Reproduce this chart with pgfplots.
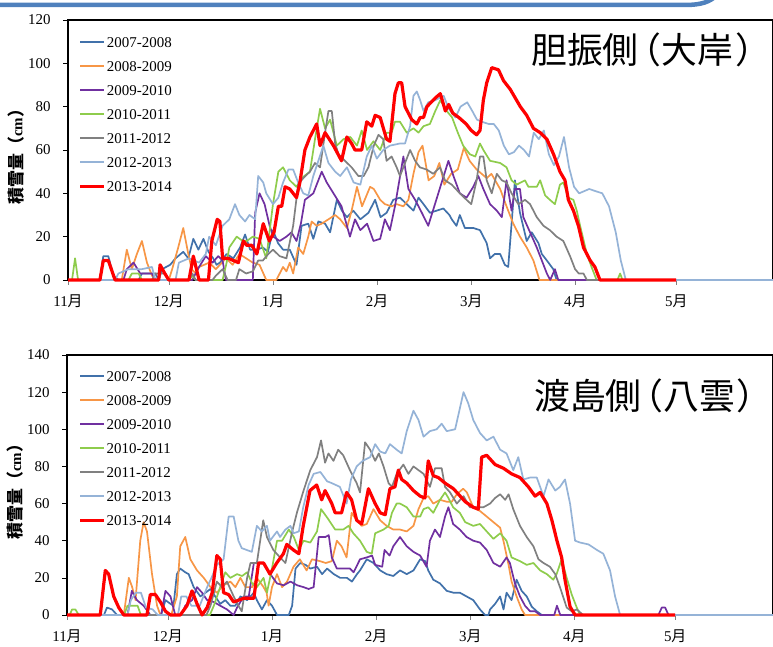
\documentclass[border=0pt]{standalone}
\usepackage{fontspec}
\setmainfont{Liberation Serif}
\newfontfamily\cjk{Noto Sans CJK JP}
\newfontfamily\cjkp[RawFeature=+palt]{Noto Sans CJK JP}
\usepackage{pgfplots}
\pgfplotsset{compat=1.18}
\definecolor{c07}{RGB}{65,113,170}
\definecolor{c08}{RGB}{247,150,70}
\definecolor{c09}{RGB}{112,48,160}
\definecolor{c10}{RGB}{142,204,76}
\definecolor{c11}{RGB}{128,128,128}
\definecolor{c12}{RGB}{149,179,215}
\definecolor{c13}{RGB}{255,0,0}
\definecolor{slideblue}{RGB}{79,129,189}
\pgfplotsset{
  snowax/.style={
    scale only axis, height=260bp,
    xmin=0, ymin=0,
    axis line style={line width=1.4bp, black},
    xtick={0,30,61,92,120,151,181},
    xticklabels={11{\cjk 月},12{\cjk 月},1{\cjk 月},2{\cjk 月},3{\cjk 月},4{\cjk 月},5{\cjk 月}},
    ytick pos=left, xtick pos=bottom,
    tick align=outside, major tick length=5bp,
    tick style={black, line width=0.6bp},
    xtick style={gray},
    tick label style={font=\fontsize{15}{17}\selectfont},
    yticklabel style={xshift=-9bp},
    xticklabel style={yshift=-6bp},
    /pgf/number format/assume math mode=true,
    clip=false, no markers,
    every axis plot/.append style={line width=1.7bp, line join=round},
    legend cell align=left,
    legend image code/.code={\draw[##1] (0bp,0bp) -- (24bp,0bp);},
    every axis y label/.style={at={(axis description cs:-0.074,0.49)}, rotate=90, anchor=center},
    ylabel={{\cjk\bfseries\fontsize{17}{17}\selectfont 積雪量（}{\bfseries\fontsize{15}{15}\selectfont cm}{\cjk\bfseries\fontsize{17}{17}\selectfont ）}},
  },
  snowleg/.style={legend style={at={(#1)}, anchor=north west, draw=none, fill=none, inner sep=0pt,
    font=\fontsize{15}{17}\selectfont, row sep=12bp,
    nodes={inner sep=1bp, text height=10bp, text depth=0bp}}},
}
\begin{document}
\begin{tikzpicture}[x=1bp,y=1bp]
\useasboundingbox (0,0) rectangle (773,647);
\clip (0,0) rectangle (773,647);
\draw[slideblue, line width=4.5bp] (-5,642) -- (685,642) .. controls (701,642) and (710,645) .. (717,652);
% ---------------- top panel
\begin{axis}[snowax, at={(68bp,367bp)}, anchor=south west, width=705bp,
  xmax=209.8, ymax=120, ytick={0,20,...,120}, snowleg={0.015,0.938}]
\addplot[c07] coordinates {(0,0) (9.5,0) (10.5,11) (12,11) (13.5,2) (15,0) (21,0) (22,3) (26,3) (27,0) (28,5) (30.4,7) (32,10) (34.3,13) (35.8,10) (37.3,19) (38.8,14) (40.3,19) (41.8,13) (43.2,10) (44.2,7) (45.2,8) (47.2,12) (49.2,10) (51.2,15) (52.7,21) (54.2,14) (56.2,14) (58,15) (59.5,13) (61,23) (62.5,17) (64,14) (66,14) (68,7) (69.5,25) (71.5,26) (73,19) (74.5,27) (76.5,26) (78,22) (80,37) (81.5,32) (83,29) (84.9,32) (87,28) (89.4,31) (91.4,37) (93,29) (94.8,31) (96.8,37) (98.8,38) (100.8,35) (102.8,32) (104.3,38) (105.8,35) (107.7,31) (109.7,32) (111.7,33) (113.5,30) (114.2,28) (115.6,25) (116.6,30) (118.1,24) (120.6,24) (122.6,23) (124.6,17) (125.6,10) (127,12) (128.6,12) (130,7) (131,6) (133,46) (134.5,31) (136.5,18) (138,22) (140,17) (141,12) (142.5,9) (144.4,5) (145.4,0) (181,0)};
\addlegendentry{2007-2008}
\addplot[c08] coordinates {(0,0) (16,0) (17.5,14) (19,5) (20.5,12) (22,18) (23.5,8) (25,2) (26,0) (30,0) (31,5) (32.8,15) (34.3,24) (35.8,12) (36.8,5) (38,3) (39,6) (42,8) (44,5) (47,10) (49,7) (51,12) (53,10) (55,8) (57,7) (59,0) (62,0) (64,6) (65,4) (66,8) (67,3) (68.5,15) (70,12) (71.5,20) (72.5,27) (74,25) (75.5,26) (77.5,28) (79.5,30) (81,28) (83,24) (84.4,32) (86,43) (87.5,34) (89.9,43) (91,42) (92.9,37) (94.3,35) (96.3,34) (97.8,35) (99.8,34) (101.3,37) (102.8,49) (104.3,59) (105.5,62) (107.3,46) (109,48) (110.5,54) (112,44) (114,49) (116,51) (117.8,61) (119.5,55) (121.6,51) (124.6,47) (126,49) (128.6,42) (130.5,34) (132.5,26) (134.5,20) (136.5,15) (138.5,9) (140.3,0) (181,0)};
\addlegendentry{2008-2009}
\addplot[c09] coordinates {(0,0) (16.5,0) (17.5,5) (19.5,8) (21.5,3) (23,3) (25,3) (26,0) (37,0) (39,6) (41,11) (43,8) (44.7,11) (46,9) (47,0) (55,0) (55.7,31) (57,40) (58.5,35) (60,25) (61.1,20) (63,18) (65,20) (66.5,22) (68,18) (69.3,26) (70.5,37) (73,40) (75.5,50) (77,45) (79,40) (81.4,34) (83.9,20) (85.4,28) (87,23) (89,26) (90.9,18) (92.9,19) (94.3,28) (95.8,23) (97.3,34) (99.8,57) (101.3,42) (103.3,37) (105.3,31) (107.2,25) (109.2,35) (111.2,45) (113.2,55) (114.7,48) (116.6,40) (118.6,38) (120.6,43) (122.1,48) (123.6,42) (125.6,35) (127.6,32) (129.1,29) (130.5,46) (132,32) (133,42) (134.5,42) (135.5,29) (137.5,22) (139.5,15) (141,9) (142.5,3) (143.5,0) (144.9,5) (145.9,0) (181,0)};
\addlegendentry{2009-2010}
\addplot[c10] coordinates {(0,0) (1.2,0) (2.1,10) (3,0) (18,0) (19,3) (21,3) (22,0) (36,0) (37,2) (38,0) (46,0) (47.2,8) (48,15) (50.2,20) (52,18) (53.2,18) (55,20) (57,19) (59,10) (61,35) (62.6,50) (64,52) (66,46) (68,43) (69.5,47) (72,50) (73.5,65) (75,79) (76.5,70) (78,74) (80,62) (82,65) (84,66) (86,62) (87.4,69) (89,60) (90.9,64) (92.9,60) (94.8,68) (96.3,68) (97.3,73) (98.8,73) (100.8,68) (102.8,70) (104.3,68) (105.8,71) (107.7,72) (109.3,78) (110.8,83) (112.7,78) (114.3,75) (116,68) (117.6,62) (119.6,58) (121.2,57) (122.6,63) (123.6,60) (125.6,55) (128.6,54) (130.5,52) (132,46) (133.5,44) (136,46) (137,43) (139.5,43) (140.5,46) (142,39) (143.4,37) (144.9,35) (146.4,44) (147.4,45) (148.9,38) (150.4,37) (151.4,32) (152.4,25) (154.4,12) (155.8,6) (157.3,0) (163.5,0) (164.3,3) (165,0) (181,0)};
\addlegendentry{2010-2011}
\addplot[c11] coordinates {(0,0) (25,0) (26,3) (29,3) (30,0) (36,0) (37,3) (38,0) (43,0) (44,2) (46,5) (47.5,0) (50,0) (51,5) (53,3) (55,4) (56.6,9) (58,9) (59.6,12) (61,14) (63,11) (65,10) (67,25) (68.5,44) (70,47) (72,50) (73.5,54) (75,52) (76.5,68) (77.5,78) (78.5,78) (79.5,63) (80.5,58) (82.4,55) (84.4,52) (86.4,48) (88,48) (89.4,52) (91,62) (92.4,67) (93.8,65) (94.8,55) (96.3,57) (97.8,52) (98.8,48) (100.3,54) (101.8,60) (103.3,55) (104.7,52) (106.7,51) (108.7,49) (110.7,52) (112.2,46) (114.2,44) (116.6,40) (118.6,37) (120,35) (121.6,46) (122.6,57) (123.6,57) (124.6,46) (126.1,40) (127.6,49) (129.1,46) (130.5,45) (132,40) (134,35) (136,37) (137.5,35) (139.5,29) (141.5,25) (143.4,23) (145.4,20) (147.4,18) (149.4,11) (150.9,5) (152,3) (153.4,3) (154.4,0) (209.8,0)};
\addlegendentry{2011-2012}
\addplot[c12] coordinates {(0,0) (14,0) (15,3) (18,5) (22,5) (25,6) (26,0) (32,0) (33,8) (36,10) (39,8) (41,12) (42,20) (44,16) (46,25) (48,28) (49.7,35) (51,30) (52.7,27) (54,30) (55.7,28) (56.6,48) (58.1,45) (59,40) (61,35) (62.6,38) (64,45) (65.6,51) (67,51) (68.5,45) (70,40) (71.5,39) (73,48) (74.5,55) (76,62) (77.5,54) (79.5,50) (81,48) (83,52) (85,45) (87,44) (88.9,57) (90.4,62) (91.9,56) (93.8,60) (95.8,62) (98.8,63) (100.3,63) (101.8,71) (102.8,85) (103.8,87) (104.8,83) (105.8,78) (107.2,82) (109.3,83) (111.8,85) (113.3,79) (115.3,75) (116.8,80) (118.8,82) (120.3,78) (121.7,74) (123.2,73) (125.2,72) (126.7,72) (128.2,69) (129.7,62) (131.2,58) (132.7,59) (134.2,62) (135.7,60) (137.2,57) (138.6,68) (140.1,65) (141.6,69) (143.1,58) (144.6,53) (146.1,57) (147.6,66) (149.1,52) (150.6,43) (152.1,40) (153.6,41) (155.1,42) (157,41) (159,40) (161,34) (163,22) (164.5,9) (166,0) (209.8,0)};
\addlegendentry{2012-2013}
\addplot[c13, line width=3.2bp] coordinates {(0,0) (9.5,0) (10.5,9) (12,9) (14,0) (27,0) (27.4,7) (28.8,3) (30,0) (36,0) (37.3,11) (39,0) (41.8,0) (42.8,18) (44.4,28) (45.2,27) (46,10) (47.7,10) (49.2,9) (50.7,8) (52.2,18) (53.2,16) (54.7,16) (56.2,12) (58.1,26) (59.9,18) (61.3,22) (62.6,34) (63.6,34) (64.6,43) (66,42) (68,38) (69,45) (70.5,60) (72,66) (74,72) (75,62) (76.5,68) (79,62) (81.4,55) (83,66) (84.4,63) (85.4,60) (87.4,60) (88.9,73) (90.4,71) (91.4,76) (92.9,75) (94.8,65) (95.8,64) (97.3,86) (98.3,91) (99.3,91) (100.3,80) (102.3,74) (103.8,72) (104.8,75) (105.8,75) (106.8,80) (109.3,84) (110.8,86) (112.3,78) (113.3,81) (114.5,77) (116.3,75) (118.5,72) (120,69) (121.6,67) (122.6,69) (123.6,83) (124.6,91) (126.1,98) (128.1,97) (129.6,92) (131.6,88) (134.6,80) (136.5,76) (138.5,70) (140.5,68) (142.5,65) (144.5,58) (146.4,50) (147.9,46) (148.9,37) (150.4,32) (151.9,25) (153.4,15) (155.4,9) (156.8,6) (158.3,0) (181,0)};
\addlegendentry{2013-2014}
\end{axis}
\node[anchor=west, inner sep=0pt, font=\cjkp\fontsize{36}{36}\selectfont] at (531,597) {胆振側\hspace{3bp}（\hspace{2bp}大岸\hspace{3bp}）};
% ---------------- bottom panel
\begin{axis}[snowax, at={(67bp,32bp)}, anchor=south west, width=706bp,
  xmax=210.1, ymax=140, ytick={0,20,...,140}, snowleg={0.016,0.942}]
\addplot[c07] coordinates {(0,0) (11,0) (11.9,4) (13.4,3) (14.9,0) (28,0) (29.3,8) (30.8,6) (31.7,5) (32.7,22) (33.7,25) (35.2,23) (36.2,22) (37.7,15) (39.7,10) (41.2,12) (42.7,14) (44.1,10) (45.6,6) (47.1,8) (48.6,5) (50.1,5) (51.6,10) (53.6,8) (55.6,12) (56.5,8) (58,3) (59.5,8) (61,5) (62.5,0) (66,0) (67,5) (68,25) (69.4,28) (71,27) (72.4,25) (74.4,26) (75.9,22) (77.4,25) (79.4,22) (81.3,20) (83.3,20) (84.8,18) (86.3,22) (87.2,24) (89.2,30) (91.2,28) (93.2,24) (95.1,22) (97.1,21) (99.1,24) (101.1,22) (103.1,24) (105.1,30) (106.6,29) (107.5,24) (109,19) (111,17) (113,13) (115,12) (116.9,12) (118.9,10) (120.9,8) (122.9,3) (124.4,0) (125.4,0) (125.9,3) (127.4,6) (128.9,10) (129.9,3) (130.8,12) (132.3,8) (133.8,19) (135.3,13) (136.8,10) (138.3,4.5) (139.8,2) (141.3,0) (210.1,0)};
\addlegendentry{2007-2008}
\addplot[c08] coordinates {(0,0) (16.9,0) (18.4,20) (19.4,15) (20.4,8) (21.8,40) (22.8,50) (23.8,45) (25.3,22) (26.8,5) (27.8,0) (31,0) (32.7,10) (33.7,37) (35.2,42) (36.7,30) (38.7,24) (40.7,20) (42.7,15) (44.6,12) (46.6,16) (48.6,18) (50.1,15) (51.6,20) (53.1,15) (55.1,15) (56.5,20) (58.5,15) (59.4,12) (60,5) (61,15) (62.5,22) (64,15) (65.5,18) (67.4,26) (69.3,30) (71.3,24) (72.9,30) (75.3,29) (77,28) (78.8,29) (80.3,40) (81.7,37) (83.2,31) (84.7,55) (86.2,51) (87.7,48) (89.2,49) (91.2,57) (93.2,51) (95.1,48) (97.1,46) (99.1,46) (101.1,45) (103.1,48) (104.6,57) (106.1,63) (107.5,64) (109,60) (111,62) (113,61) (114.5,61) (116,65) (117.9,68) (119,66) (120.9,58) (122.9,56) (124.9,53) (126.9,50) (128.9,47) (130,39) (131.4,27) (132.3,18) (133.8,10) (135.3,3) (136.3,0) (181,0)};
\addlegendentry{2008-2009}
\addplot[c09] coordinates {(0,0) (18,0) (19.3,13) (20.8,8) (22.8,5) (24.8,0) (28,0) (29.3,13) (30.8,10) (32.2,0) (34,0) (35.2,5) (37.2,8) (38.7,15) (40.2,12) (41.7,8) (43.7,7) (45.6,5) (47.6,3) (49.6,0) (50.6,4) (52.6,10) (54.1,10) (55.6,28) (57,28) (58.5,28) (60.5,22) (62.5,17) (64.5,16) (66.5,18) (68.5,16) (70.4,15) (71.9,14) (73.4,15) (74.9,42) (76.9,42) (77.9,43) (78.8,31) (80.3,25) (82.3,25) (84.2,25) (85.3,23) (87.2,30) (89.2,31) (90.8,32) (91.7,27) (93.8,26) (94.5,35) (96,32) (97.1,37) (99.1,42) (101.1,37) (103.1,34) (105.1,32) (107,26) (108,40) (109.5,46) (111,42) (112.5,53) (113.5,58) (114.9,49) (116.9,46) (118.9,42) (120.9,40) (122.9,39) (124.9,35) (126.9,28) (128.9,26) (130.8,31) (131.8,28) (133.3,17) (134.8,10) (136.3,5) (137.8,2) (139.3,2) (140.8,0) (145,0) (145.8,5) (146.8,0) (176,0) (177,4) (178,4) (179,0) (181,0)};
\addlegendentry{2009-2010}
\addplot[c10] coordinates {(0,0) (0.8,0) (1.5,3) (2.5,3) (3.5,0) (17,0) (18,5) (21,5) (22,0) (42.5,0) (43.7,5) (45.6,15) (47.1,23) (48.6,20) (50.6,22) (52.1,21) (53.6,23) (55.1,17) (56.5,15) (58.5,20) (59.5,12) (61,25) (62.5,40) (64,40) (66,46) (67.5,42) (69,35) (70.4,40) (72.4,39) (74.4,45) (75.6,57) (77.6,52) (79.8,46) (82.2,46) (83.8,48) (85.2,44) (87.2,40) (89.2,34) (90.7,33) (91.7,44) (94.2,46) (95.7,48) (96.7,55) (98.1,60) (99.1,60) (101.1,58) (103.1,53) (105.1,53) (106.1,57) (107.5,58) (109,55) (111,62) (112.5,66) (113.5,63) (114.9,58) (116.9,55) (118.5,50) (120.9,48) (122.9,49) (124.9,45) (126.9,41) (128.9,44) (130.8,40) (132.3,31) (134.8,29) (136.8,27) (138.8,28) (140.8,24) (142.8,22) (144.7,19) (145.7,22) (147.2,30) (148.7,20) (150.2,11) (151.7,4) (152.7,0) (181,0)};
\addlegendentry{2010-2011}
\addplot[c11] coordinates {(0,0) (41.5,0) (42.7,5) (44.6,18) (46.1,15) (47.6,18) (49.6,10) (51,5) (52,2) (53.6,20) (54.6,28) (56.5,28) (58.4,51) (59.5,42) (61.4,35) (63.4,31) (65,28) (66.9,44) (68.4,55) (70.4,67) (72.4,78) (74.4,85) (75.6,94) (76.8,82) (77.8,87) (79.3,83) (80.7,89) (82.2,86) (84.2,78) (86.2,71) (87.2,66) (88.7,93) (90.2,89) (91.7,83) (92.8,87) (94.2,80) (95.7,71) (96.7,69) (98.1,76) (100.1,81) (101.6,76) (103.1,80) (104.6,78) (106.1,76) (108,69) (109.5,79) (111.5,79) (112.5,69) (114,66) (116,60) (118,64) (119.9,58) (121.9,58) (123.9,58) (125.9,60) (127.4,63) (128.9,65) (130.4,62) (131.4,65) (132.8,57) (134.8,48) (136.8,42) (138.8,37) (140.3,30) (141.8,28) (143.7,26) (145.3,22) (146.7,15) (148.7,4) (150.2,2) (151.7,3) (153.6,0) (210.1,0)};
\addlegendentry{2011-2012}
\addplot[c12] coordinates {(0,0) (18,0) (19,8) (20.5,12) (22,12) (23.5,4) (25.5,3) (27,0) (33,0) (34,10) (35.5,10) (37,5) (39.5,5) (41.7,15) (43,20) (44.6,27) (46.6,30) (48.1,53) (49.6,53) (51,40) (52,36) (53.5,35) (55,34) (56.5,48) (58,45) (59.5,48) (60.4,40) (62.5,45) (63.4,42) (65,46) (66.5,48) (67.4,44) (69,45) (70.3,58) (71.9,70) (73.4,76) (75.4,77) (77.4,72) (78.8,71) (81.2,69) (83.2,60) (84.5,73) (86.2,80) (88,83) (90.2,85) (91.7,92) (93.2,88) (94.7,87) (96.1,92) (98.1,89) (99.6,87) (101.1,99) (103.1,110) (104.6,105) (106.1,96) (108,99) (110,100) (111.5,103) (113,99) (115.5,100) (117,112) (118,120) (119.4,114) (120.9,105) (122.9,98) (124.9,94) (126.9,96) (128.9,89) (130.8,87) (132.8,78) (134.3,85) (135.8,73) (137.8,74) (139.8,74) (141.8,64) (143.3,73) (145.3,67) (146.7,69) (148.2,73) (149.7,60) (151.2,40) (152.7,39) (155.2,38) (157.7,35) (159.6,33) (161.6,24) (163.1,10) (164.6,0) (210.1,0)};
\addlegendentry{2012-2013}
\addplot[c13, line width=3.2bp] coordinates {(0,0) (9.9,0) (11.4,24) (12.4,22) (13.9,10) (15.4,4) (16.9,0) (23.8,0) (24.8,11) (26.3,11) (27.8,7) (29.3,2) (30.8,0) (33.7,0) (35.7,5) (37.2,13) (38.7,6) (40.2,0) (41.7,4) (43.2,12) (44.6,32) (45.6,30) (46.6,12) (48.1,11) (49.6,7) (51.1,8) (52.6,9) (55.6,9) (57,28) (58.5,28) (60.4,22) (62.4,28) (64.4,33) (65.4,38) (67.4,35) (69,33) (70.3,48) (72.3,67) (74.3,70) (75.8,62) (76.8,67) (78.8,60) (79.8,55) (81.7,55) (83.2,66) (84.7,62) (86.2,51) (87.7,49) (89.7,68) (91.7,60) (93.2,55) (94.7,54) (96.1,68) (97.6,69) (98.6,78) (99.6,73) (101.1,71) (103.1,67) (105.1,64) (106.5,63) (107.5,83) (109,75) (110.5,74) (112.5,71) (115,68) (116.5,65) (118.5,61) (120.9,58) (122.4,57) (123.4,85) (124.9,86) (127.4,81) (129.9,79) (132.3,76) (134.8,74) (137.3,69) (139.3,64) (140.8,66) (142.8,60) (144.3,51) (145.8,40) (147.2,31) (148.2,19) (149.7,4.5) (151.2,0) (181,0)};
\addlegendentry{2013-2014}
\end{axis}
\node[anchor=west, inner sep=0pt, font=\cjkp\fontsize{36}{36}\selectfont] at (534,251) {渡島側\hspace{2bp}（\hspace{2bp}八雲\hspace{2bp}）};
\end{tikzpicture}
\end{document}
